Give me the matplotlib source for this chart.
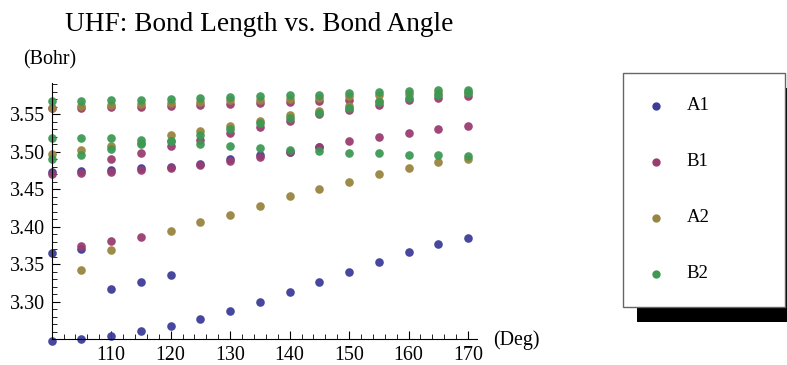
import matplotlib

matplotlib.use("Agg")
from matplotlib import pyplot as plt
from matplotlib.lines import Line2D
from matplotlib.patches import Rectangle
from matplotlib.ticker import MultipleLocator, FixedLocator

angles = [100, 105, 110, 115, 120, 125, 130, 135, 140, 145, 150, 155, 160, 165, 170]

# A1
a1_low = [3.248, 3.250, 3.255, 3.261, 3.268, 3.277, 3.288, 3.2995, 3.313, 3.326,
          3.340, 3.353, 3.366, 3.377, 3.385]
a1_mid_x = [100, 105, 110, 115, 120]
a1_mid = [3.365, 3.370, 3.317, 3.327, 3.336]
a1_high_x = [100, 105, 110, 115, 120, 125, 130, 135, 140, 145]
a1_high = [3.473, 3.475, 3.476, 3.479, 3.480, 3.484, 3.490, 3.496, 3.4995, 3.507]

# B1
b1_low = [3.470, 3.472, 3.473, 3.476, 3.478, 3.482, 3.4875, 3.493, 3.4995, 3.507,
          3.514, 3.5195, 3.525, 3.530, 3.534]
b1_short_x = [105, 110, 115]
b1_short = [3.374, 3.381, 3.387]
b1_rise_x = [110, 115, 120, 125, 130, 135, 140, 145, 150, 155, 160, 165, 170]
b1_rise = [3.490, 3.499, 3.5075, 3.5155, 3.525, 3.533, 3.541, 3.550, 3.556, 3.562,
           3.5697, 3.572, 3.575]
b1_top_x = [100, 105, 110, 115, 120, 125, 130, 135, 140, 145, 150]
b1_top = [3.558, 3.559, 3.560, 3.560, 3.5617, 3.562, 3.564, 3.565, 3.566, 3.5675, 3.5697]

# A2
a2_low_x = [105, 110, 120, 125, 130, 135, 140, 145, 150, 155, 160, 165, 170]
a2_low = [3.343, 3.369, 3.395, 3.406, 3.4155, 3.4275, 3.441, 3.450, 3.460, 3.471,
          3.479, 3.486, 3.491]
a2_mid_x = [100, 105, 110, 115, 120, 125, 130, 135, 140, 145, 150, 155]
a2_mid = [3.497, 3.503, 3.508, 3.512, 3.523, 3.5275, 3.535, 3.541, 3.5497, 3.554,
          3.5617, 3.568]
a2_top = [3.559, 3.561, 3.563, 3.5635, 3.565, 3.566, 3.569, 3.569, 3.570, 3.572,
          3.574, 3.576, 3.577, 3.579, 3.580]

# B2
b2_top = [3.5675, 3.568, 3.569, 3.569, 3.571, 3.572, 3.573, 3.574, 3.5755, 3.576,
          3.579, 3.5795, 3.581, 3.582, 3.583]
b2_fall = [3.518, 3.519, 3.518, 3.516, 3.514, 3.511, 3.5075, 3.505, 3.502, 3.501,
           3.499, 3.498, 3.496, 3.496, 3.495]
b2_rise = [3.490, 3.496, 3.504, 3.510, 3.514, 3.523, 3.531, 3.539, 3.545, 3.552,
           3.559, 3.566, 3.572, 3.576, 3.578]

series_names = ["A1", "B1", "A2", "B2"]
series_colors = ["#3d3d99", "#993d71", "#998540", "#3d9954"]

FONT = "Liberation Serif"


def series_points():
    a1 = [(angles, a1_low), (a1_mid_x, a1_mid), (a1_high_x, a1_high)]
    b1 = [(angles, b1_low), (b1_short_x, b1_short), (b1_rise_x, b1_rise), (b1_top_x, b1_top)]
    a2 = [(a2_low_x, a2_low), (a2_mid_x, a2_mid), (angles, a2_top)]
    b2 = [(angles, b2_top), (angles, b2_fall), (angles, b2_rise)]
    return [a1, b1, a2, b2]


def draw_legend(fig):
    left, bottom, width, height = 0.7912, 0.1597, 0.2062, 0.6411
    fig.patches.append(Rectangle((left + 0.0178, bottom - 0.0411), width, height,
                                 transform=fig.transFigure, facecolor="black",
                                 edgecolor="none", zorder=1))
    fig.patches.append(Rectangle((left, bottom), width, height,
                                 transform=fig.transFigure, facecolor="white",
                                 edgecolor="#666666", linewidth=1.0, zorder=2))
    rows = [0.7104, 0.5570, 0.4036, 0.2501]
    for name, color, y in zip(series_names, series_colors, rows):
        fig.lines.append(Line2D([0.8336], [y], transform=fig.transFigure,
                                marker="o", markersize=5, color=color,
                                linestyle="none", zorder=3))
        fig.text(0.8725, y, name, fontsize=13.5, family=FONT, va="center", ha="left")


def plot_chart():
    fig = plt.figure(figsize=(7.87, 3.65), dpi=100)
    ax = fig.add_axes([0.0657, 0.0704, 0.5404, 0.7022])

    for branches, color in zip(series_points(), series_colors):
        for xs, ys in branches:
            ax.plot(xs, ys, "o", color=color, markersize=6.2, markeredgewidth=0,
                    alpha=0.95, clip_on=False)

    ax.set_xlim(100, 171.5)
    ax.set_ylim(3.25, 3.592)

    for side in ["top", "right"]:
        ax.spines[side].set_visible(False)
    ax.spines["left"].set_position(("data", 100))
    ax.spines["bottom"].set_position(("data", 3.25))

    ax.xaxis.set_major_locator(FixedLocator([110, 120, 130, 140, 150, 160, 170]))
    ax.xaxis.set_minor_locator(MultipleLocator(2))
    ax.yaxis.set_major_locator(FixedLocator([3.30, 3.35, 3.40, 3.45, 3.50, 3.55]))
    ax.yaxis.set_minor_locator(MultipleLocator(0.01))
    ax.yaxis.set_major_formatter(plt.FuncFormatter(lambda v, p: f"{v:.2f}"))
    ax.tick_params(which="major", direction="in", length=6, width=0.8, labelsize=14.4, pad=5)
    ax.tick_params(which="minor", direction="in", length=3.5, width=0.6)
    for label in ax.get_xticklabels() + ax.get_yticklabels():
        label.set_family(FONT)

    fig.text(0.3297, 0.932, "UHF: Bond Length vs. Bond Angle", fontsize=19.6,
             family=FONT, ha="center", va="center")
    fig.text(0.029, 0.836, "(Bohr)", fontsize=14.4, family=FONT, ha="left", va="center")
    fig.text(0.6264, 0.0685, "(Deg)", fontsize=14.4, family=FONT, ha="left", va="center")

    draw_legend(fig)
    fig.savefig("out.png", dpi=100)


if __name__ == "__main__":
    plot_chart()
